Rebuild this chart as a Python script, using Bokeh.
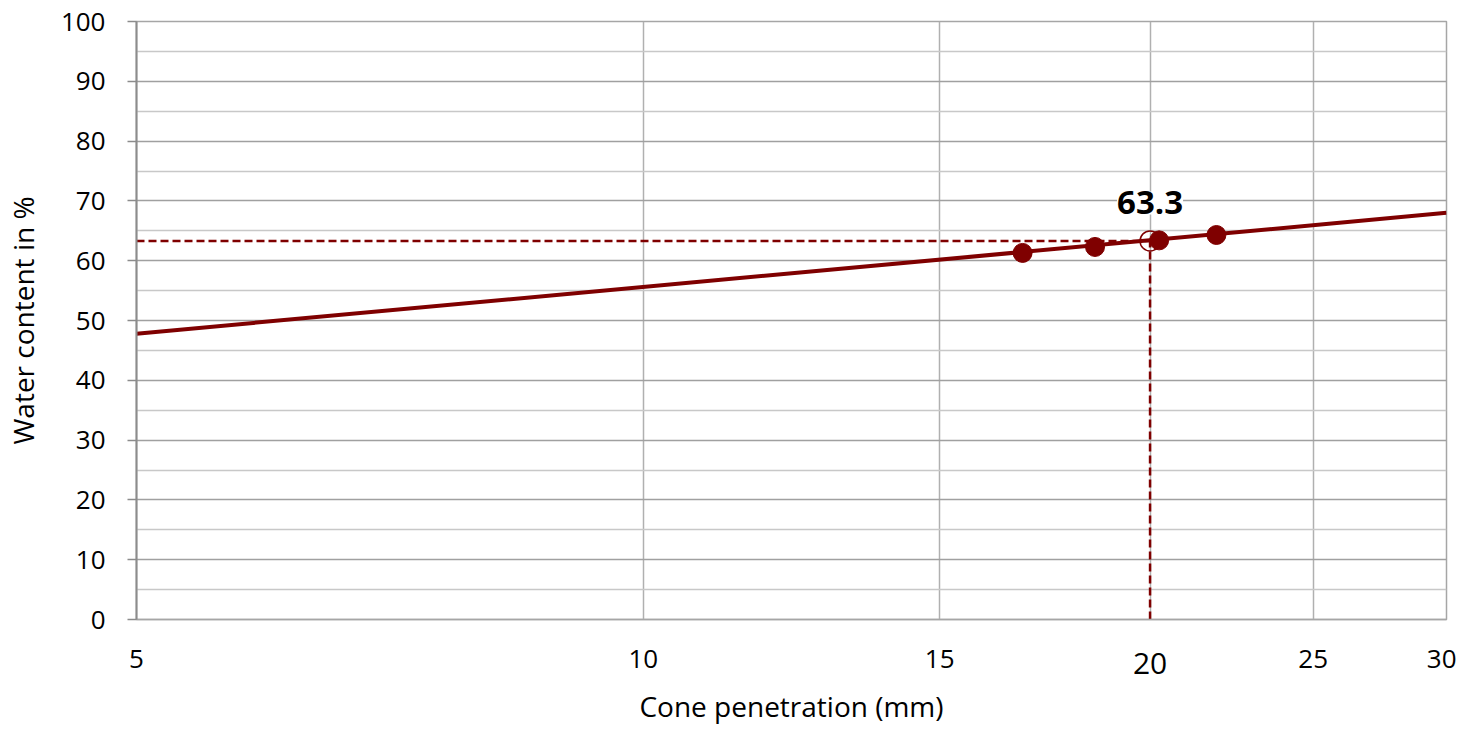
from bokeh.plotting import figure
from bokeh.models import FixedTicker, Label, LogAxis, BasicTickFormatter
from bokeh.embed import file_html
from bokeh.resources import INLINE

# Data
pen_mm = [16.8, 18.55, 20.25, 21.9]
water = [61.3, 62.3, 63.4, 64.3]
trend_x = [5, 30]
trend_y = [47.8, 68.0]
ll_x = 20
ll_y = 63.3
x_ticks = [5, 10, 15, 20, 25, 30]
y_ticks = list(range(0, 101, 10))

RED = "#7f0000"
FONT = "Open Sans"

p = figure(width=1456, height=727, x_axis_type="log", x_range=(5, 30), y_range=(0, 100),
           output_backend="svg", toolbar_location=None,
           min_border_left=133, min_border_right=10, min_border_top=21, min_border_bottom=108)
p.background_fill_color = "white"
p.border_fill_color = "white"
p.outline_line_color = "#a6a6a6"
p.outline_line_width = 1.5

# main x axis (without the highlighted 20)
p.xaxis.ticker = FixedTicker(ticks=x_ticks, minor_ticks=[])
p.xaxis.formatter = BasicTickFormatter()
p.xaxis.major_label_overrides = {20: ""}
p.xaxis.major_tick_line_color = None
p.xaxis.major_tick_out = 0
p.xaxis.minor_tick_line_color = None
p.xaxis.axis_line_color = "#a6a6a6"
p.xaxis.axis_line_width = 1.5
p.xaxis.major_label_standoff = 30
p.xaxis.major_label_text_font = FONT
p.xaxis.major_label_text_font_size = "26px"
p.xaxis.major_label_text_color = "black"

# second axis carrying the larger "20" label and the title
ax20 = LogAxis(ticker=FixedTicker(ticks=[ll_x], minor_ticks=[]), formatter=BasicTickFormatter())
ax20.major_label_overrides = {ll_x: str(ll_x)}
ax20.axis_line_color = None
ax20.major_tick_line_color = None
ax20.minor_tick_line_color = None
ax20.major_tick_out = 0
ax20.major_label_standoff = -18
ax20.major_label_text_font = FONT
ax20.major_label_text_font_size = "30px"
ax20.major_label_text_color = "black"
ax20.axis_label = "Cone penetration (mm)"
ax20.axis_label_text_font = FONT
ax20.axis_label_text_font_size = "28px"
ax20.axis_label_text_font_style = "normal"
ax20.axis_label_text_color = "black"
ax20.axis_label_standoff = 10
p.add_layout(ax20, "below")

p.yaxis.ticker = FixedTicker(ticks=y_ticks, minor_ticks=list(range(5, 100, 10)))
p.yaxis.major_tick_out = 9
p.yaxis.major_tick_in = 0
p.yaxis.minor_tick_line_color = None
p.yaxis.major_tick_line_color = "#8c8c8c"
p.yaxis.major_tick_line_width = 1.5
p.yaxis.axis_line_color = "#8c8c8c"
p.yaxis.axis_line_width = 2
p.yaxis.major_label_standoff = 22
p.yaxis.major_label_text_font = FONT
p.yaxis.major_label_text_font_size = "26px"
p.yaxis.major_label_text_color = "black"
p.yaxis.axis_label = "Water content in %"
p.yaxis.axis_label_text_font = FONT
p.yaxis.axis_label_text_font_size = "28px"
p.yaxis.axis_label_text_font_style = "normal"
p.yaxis.axis_label_text_color = "black"
p.yaxis.axis_label_standoff = 16

p.xgrid.ticker = FixedTicker(ticks=[10, 15, 20, 25, 30])
p.xgrid.grid_line_color = "#b0b0b0"
p.xgrid.grid_line_width = 1.5
p.ygrid.grid_line_color = "#a0a0a0"
p.ygrid.grid_line_width = 1.5
p.ygrid.minor_grid_line_color = "#c8c8c8"
p.ygrid.minor_grid_line_width = 1.5

# trend line
p.line(trend_x, trend_y, line_color=RED, line_width=4)

# dashed reference lines
p.line([5, ll_x], [ll_y, ll_y], line_color=RED, line_width=2.5, line_dash="8 4")
p.line([ll_x, ll_x], [0, ll_y], line_color=RED, line_width=2.5, line_dash="8 4")

# points
p.scatter(pen_mm, water, size=19, fill_color=RED, line_color=RED)
p.scatter([ll_x], [ll_y], size=20, fill_color=None, line_color=RED, line_width=1.5)

# value label
p.add_layout(Label(x=ll_x, y=ll_y, text="63.3", text_font=FONT, text_font_size="33px",
                   text_font_style="bold", text_align="center", text_baseline="middle",
                   y_offset=38, background_fill_color="white", background_fill_alpha=1.0,
                   text_color="black"))

open("out.html", "w").write(file_html(p, INLINE))
